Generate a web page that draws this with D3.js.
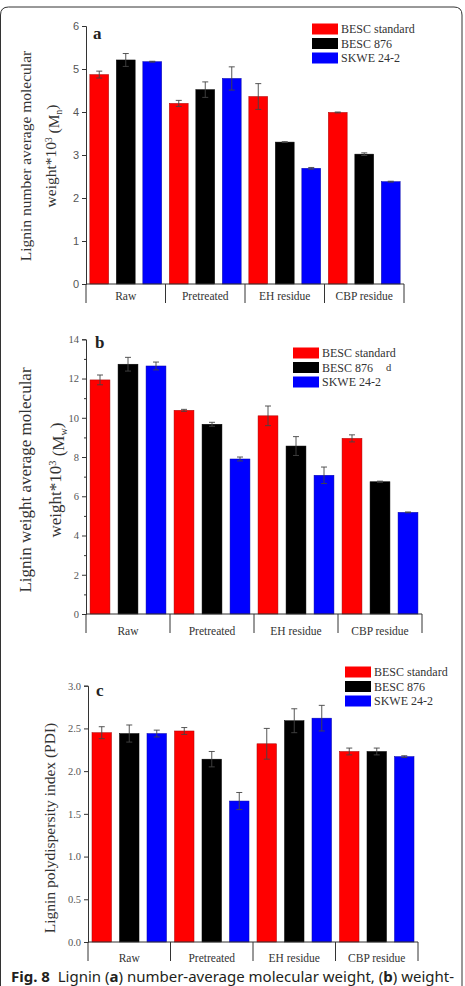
<!DOCTYPE html>
<html>
<head>
<meta charset="utf-8">
<script src="https://cdn.jsdelivr.net/npm/d3@7"></script>
<style>
  body { margin: 0; background: #fff; }
  svg { display: block; }
</style>
</head>
<body>
<div id="fig"></div>
<script>
// Lignin molecular weight figure, three stacked bar panels (a, b, c)

var categories = ["Raw", "Pretreated", "EH residue", "CBP residue"];
var series = ["BESC standard", "BESC 876", "SKWE 24-2"];
var colors = ["#ff0000", "#000000", "#0000ff"];

// panel a : number average Mn (x10^3)
var mnStandard = [4.87, 4.20, 4.36, 3.99];
var mnStandardErr = [0.08, 0.07, 0.30, 0.01];
var mn876 = [5.21, 4.52, 3.30, 3.02];
var mn876Err = [0.15, 0.18, 0.01, 0.03];
var mnSkwe = [5.17, 4.78, 2.69, 2.38];
var mnSkweErr = [0.01, 0.27, 0.02, 0.01];

// panel b : weight average Mw (x10^3)
var mwStandard = [11.93, 10.38, 10.10, 8.95];
var mwStandardErr = [0.25, 0.05, 0.50, 0.18];
var mw876 = [12.73, 9.67, 8.56, 6.74];
var mw876Err = [0.35, 0.10, 0.48, 0.03];
var mwSkwe = [12.64, 7.90, 7.07, 5.18];
var mwSkweErr = [0.20, 0.10, 0.42, 0.02];

// panel c : PDI
var pdiStandard = [2.45, 2.47, 2.32, 2.23];
var pdiStandardErr = [0.07, 0.04, 0.18, 0.04];
var pdi876 = [2.44, 2.14, 2.59, 2.23];
var pdi876Err = [0.10, 0.09, 0.14, 0.04];
var pdiSkwe = [2.44, 1.65, 2.62, 2.17];
var pdiSkweErr = [0.04, 0.10, 0.15, 0.01];

var aTicks = [0, 1, 2, 3, 4, 5, 6];
var bTicks = [0, 2, 4, 6, 8, 10, 12, 14];
var bMinor = [1, 3, 5, 7, 9, 11, 13];
var cTicks = [0, 0.5, 1.0, 1.5, 2.0, 2.5, 3.0];

var width = 465, height = 986;
var serif = "'Liberation Serif', 'Times New Roman', serif";
var sans = "'Liberation Sans', Arial, sans-serif";

var svg = d3.select("#fig").append("svg")
    .attr("width", width)
    .attr("height", height);

// rounded frame around the figure
svg.append("path")
    .attr("d", "M0.5,1000 V15 Q0.5,7 8.5,7 H454 Q462,7 462,15 V1000")
    .attr("fill", "none")
    .attr("stroke", "#333")
    .attr("stroke-width", 1);

var panels = [
    {
        letter: "a", letterX: 93, letterY: 39,
        x0: 86, x1: 404, yBottom: 284, yTop: 26, max: 6,
        ticks: aTicks, minor: [], fmt: d3.format("d"), tickFont: sans, tickSize: 11,
        values: [mnStandard, mn876, mnSkwe], errs: [mnStandardErr, mn876Err, mnSkweErr],
        catDy: 16, sepLen: 19,
        title: [{ x: 26, text: "Lignin number average molecular" },
                { x: 51, text: "weight*10", sup: "3", pre: " (M", sub: "n", post: ")" }],
        titleY: 156, titleSize: 15.5,
        legX: 312, legY: 29
    },
    {
        letter: "b", letterX: 95, letterY: 348,
        x0: 86, x1: 422, yBottom: 614, yTop: 339.3, max: 14,
        ticks: bTicks, minor: bMinor, fmt: d3.format("d"), tickFont: serif, tickSize: 10.5,
        values: [mwStandard, mw876, mwSkwe], errs: [mwStandardErr, mw876Err, mwSkweErr],
        catDy: 21, sepLen: 19,
        title: [{ x: 25, text: "Lignin weight average molecular" },
                { x: 55, text: "weight*10", sup: "3", pre: " (M", sub: "w", post: ")" }],
        titleY: 480, titleSize: 17,
        legX: 293, legY: 353
    },
    {
        letter: "c", letterX: 96, letterY: 696,
        x0: 88, x1: 418, yBottom: 942, yTop: 685.7, max: 3,
        ticks: cTicks, minor: [], fmt: d3.format(".1f"), tickFont: serif, tickSize: 10.5,
        values: [pdiStandard, pdi876, pdiSkwe], errs: [pdiStandardErr, pdi876Err, pdiSkweErr],
        catDy: 20, sepLen: 19,
        title: [{ x: 50, text: "Lignin polydispersity index (PDI)" }],
        titleY: 828, titleSize: 15.5,
        legX: 345, legY: 672
    }
];

panels.forEach(drawPanel);

function drawPanel(p) {
    var g = svg.append("g");

    var y = d3.scaleLinear().domain([0, p.max]).range([p.yBottom, p.yTop]);
    var x = d3.scaleBand().domain(categories).range([p.x0, p.x1]).padding(0);
    var xs = d3.scaleBand().domain(series).range([0, x.bandwidth()])
        .paddingInner(0.29).paddingOuter(0.145);

    // bars, one group per category
    var groups = g.selectAll(".grp")
        .data(categories)
        .enter().append("g")
        .attr("class", "grp")
        .attr("transform", function (d) { return "translate(" + x(d) + ",0)"; });

    groups.each(function (cat, ci) {
        var rows = series.map(function (s, si) {
            return { s: s, si: si, v: p.values[si][ci], e: p.errs[si][ci] };
        });
        var gg = d3.select(this);
        gg.selectAll("rect")
            .data(rows)
            .enter().append("rect")
            .attr("x", function (d) { return xs(d.s); })
            .attr("y", function (d) { return y(d.v); })
            .attr("width", xs.bandwidth())
            .attr("height", function (d) { return y(0) - y(d.v); })
            .attr("fill", function (d) { return colors[d.si]; })
            .attr("stroke", function (d) { return d3.rgb(colors[d.si]).darker(1.2); })
            .attr("stroke-width", 0.5);

        // error bars
        var eb = gg.selectAll(".err")
            .data(rows)
            .enter().append("g")
            .attr("class", "err")
            .attr("stroke", "#444")
            .attr("stroke-width", 0.9);
        eb.append("line")
            .attr("x1", function (d) { return xs(d.s) + xs.bandwidth() / 2; })
            .attr("x2", function (d) { return xs(d.s) + xs.bandwidth() / 2; })
            .attr("y1", function (d) { return y(d.v - d.e); })
            .attr("y2", function (d) { return y(d.v + d.e); });
        [1, -1].forEach(function (sgn) {
            eb.append("line")
                .attr("x1", function (d) { return xs(d.s) + xs.bandwidth() / 2 - 3; })
                .attr("x2", function (d) { return xs(d.s) + xs.bandwidth() / 2 + 3; })
                .attr("y1", function (d) { return y(d.v + sgn * d.e); })
                .attr("y2", function (d) { return y(d.v + sgn * d.e); });
        });
    });

    // y axis
    var yAxis = d3.axisLeft(y).tickValues(p.ticks).tickFormat(p.fmt).tickSize(4).tickPadding(3);
    var ya = g.append("g")
        .attr("transform", "translate(" + p.x0 + ",0)")
        .call(yAxis);
    ya.select(".domain").attr("stroke", "#333");
    ya.selectAll(".tick line").attr("stroke", "#333");
    ya.selectAll(".tick text")
        .attr("fill", "#555")
        .style("font-family", p.tickFont)
        .style("font-size", p.tickSize + "px");
    if (p.minor.length) {
        g.append("g")
            .attr("transform", "translate(" + p.x0 + ",0)")
            .call(d3.axisLeft(y).tickValues(p.minor).tickFormat("").tickSize(2))
            .call(function (s) { s.select(".domain").remove(); s.selectAll("line").attr("stroke", "#333"); });
    }

    // category axis: baseline, separators, labels
    g.append("line")
        .attr("x1", p.x0).attr("x2", p.x1)
        .attr("y1", y(0)).attr("y2", y(0))
        .attr("stroke", "#333");
    var edges = categories.map(function (c) { return x(c); }).concat([p.x1]);
    g.selectAll(".sep")
        .data(edges)
        .enter().append("line")
        .attr("class", "sep")
        .attr("x1", function (d) { return d; })
        .attr("x2", function (d) { return d; })
        .attr("y1", y(0))
        .attr("y2", y(0) + p.sepLen)
        .attr("stroke", "#333");
    g.selectAll(".cat")
        .data(categories)
        .enter().append("text")
        .attr("class", "cat")
        .attr("x", function (d) { return x(d) + x.bandwidth() / 2; })
        .attr("y", y(0) + p.catDy)
        .attr("text-anchor", "middle")
        .attr("fill", "#333")
        .style("font-family", serif)
        .style("font-size", "11.5px")
        .text(function (d) { return d; });

    // panel letter
    g.append("text")
        .attr("x", p.letterX)
        .attr("y", p.letterY)
        .attr("fill", "#222")
        .style("font-family", serif)
        .style("font-weight", "bold")
        .style("font-size", "17px")
        .text(p.letter);

    // y axis title (rotated)
    p.title.forEach(function (t) {
        var tx = g.append("text")
            .attr("transform", "translate(" + t.x + "," + p.titleY + ") rotate(-90)")
            .attr("dy", "0.35em")
            .attr("text-anchor", "middle")
            .attr("fill", "#333")
            .style("font-family", serif)
            .style("font-size", p.titleSize + "px");
        tx.append("tspan").text(t.text);
        if (t.sup) {
            tx.append("tspan").attr("dy", "-0.45em").style("font-size", "0.6em").text(t.sup);
            tx.append("tspan").attr("dy", "0.45em").text(t.pre);
            tx.append("tspan").attr("dy", "0.3em").style("font-size", "0.6em").text(t.sub);
            tx.append("tspan").attr("dy", "-0.3em").text(t.post);
        }
    });

    // legend
    var leg = g.selectAll(".leg")
        .data(series)
        .enter().append("g")
        .attr("class", "leg")
        .attr("transform", function (d, i) { return "translate(" + p.legX + "," + (p.legY + i * 14.5) + ")"; });
    leg.append("rect")
        .attr("x", 0).attr("y", -5.5)
        .attr("width", 26).attr("height", 11)
        .attr("fill", function (d, i) { return colors[i]; });
    leg.append("text")
        .attr("x", 29)
        .attr("dy", "0.35em")
        .attr("fill", "#333")
        .style("font-family", serif)
        .style("font-size", "12px")
        .text(function (d) { return d; });
}

// stray mark printed in panel b of the original
svg.append("text")
    .attr("x", 386).attr("y", 371)
    .attr("fill", "#333")
    .style("font-family", serif)
    .style("font-size", "10.5px")
    .text("d");

// caption (cut at the bottom edge)
var cap = svg.append("text")
    .attr("x", 11).attr("y", 982)
    .attr("fill", "#231f20")
    .style("font-family", "'Noto Sans', 'Open Sans', sans-serif")
    .style("font-size", "15px");
cap.append("tspan").style("font-weight", "bold").text("Fig. 8");
cap.append("tspan").text("\u00a0 Lignin (");
cap.append("tspan").style("font-weight", "bold").text("a");
cap.append("tspan").text(") number-average molecular weight, (");
cap.append("tspan").style("font-weight", "bold").text("b");
cap.append("tspan").text(") weight-");
</script>
</body>
</html>
